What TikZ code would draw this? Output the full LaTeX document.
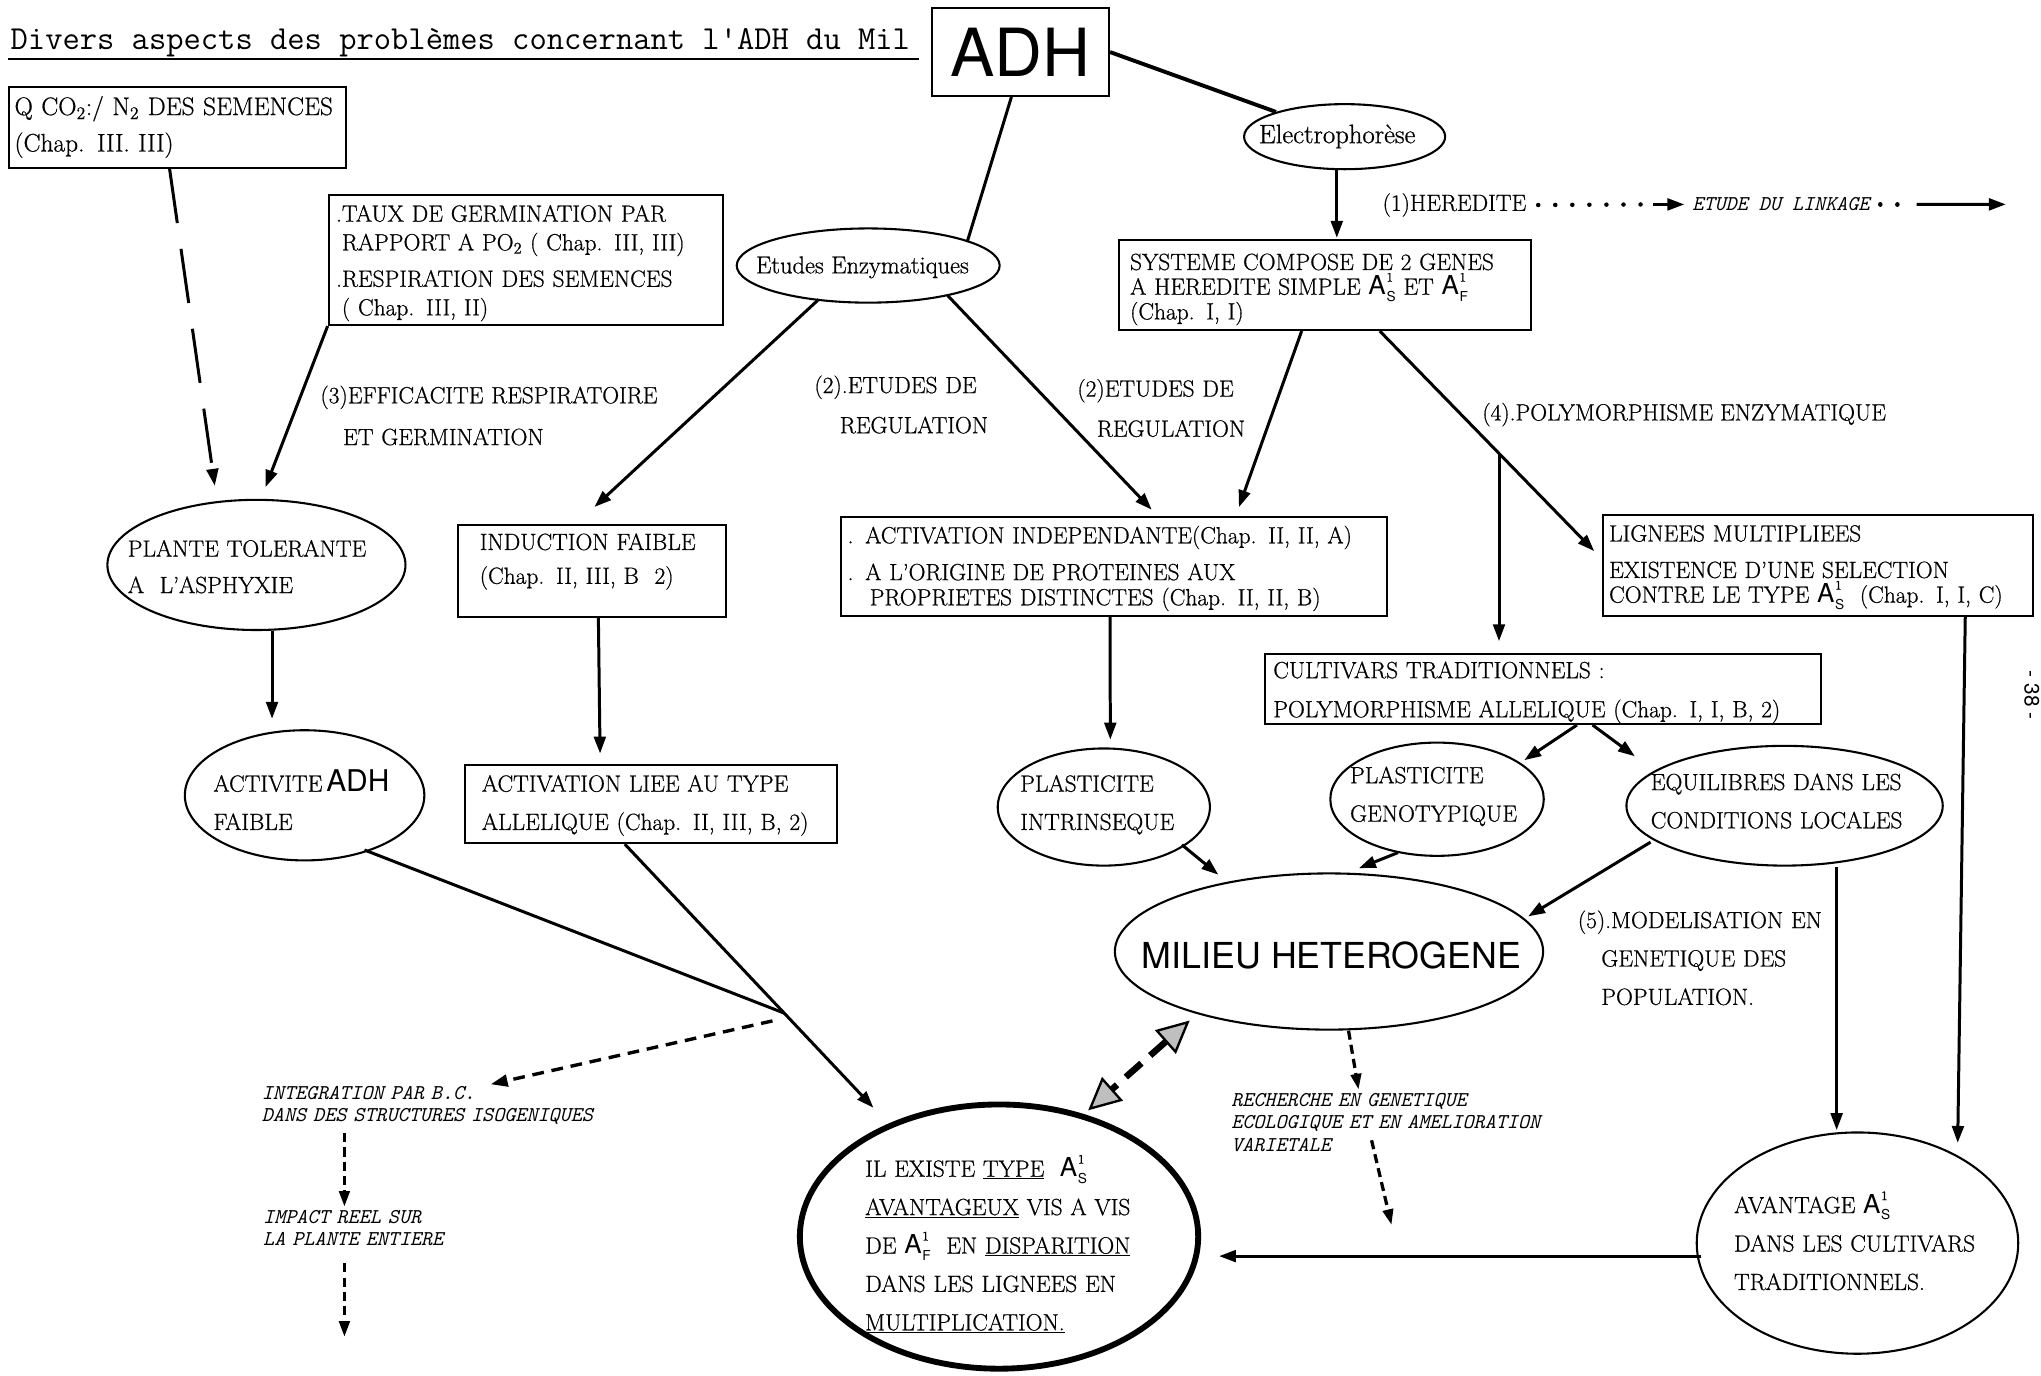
\documentclass[tikz,border=0pt]{standalone}
\usepackage{fontspec}
\setmainfont{Latin Modern Roman}[FakeBold=0.7]
\newfontfamily\heros{TeX Gyre Heros}
\usetikzlibrary{arrows.meta,calc,shapes.geometric}
\newcommand\myA[1]{{\heros\fontsize{20}{20}\selectfont A}\kern0.5pt\rlap{\raisebox{10pt}{\fontsize{10}{10}\selectfont 1}}\raisebox{-5pt}{\heros\fontsize{10.5}{10.5}\selectfont #1}}
\newcommand\bodyf[1]{\fontsize{18}{#1}\selectfont\lineskiplimit=-100pt\relax}
\newcommand\ittf[1]{\fontsize{16.2}{#1}\selectfont\ttfamily\itshape\lineskiplimit=-100pt\relax}
\tikzset{
  bx/.style={draw, line width=1.6pt, rectangle, inner sep=0pt},
  el/.style={draw, line width=1.6pt, ellipse, inner sep=0pt},
  tx/.style={inner sep=0pt, anchor=base west, align=left, text width=#1},
  tx/.default=300pt,
  lab/.style={inner sep=0pt, anchor=base west},
  ln/.style={line width=2.3pt},
  arr/.style={line width=2.3pt, -{Triangle[length=13pt,width=9pt]}},
  dsh/.style={line width=2.6pt, dash pattern=on 9pt off 6pt, -{Triangle[length=13pt,width=9pt]}},
  ddot/.style={line width=2.5pt, dash pattern=on 7pt off 4pt, -{Triangle[length=12pt,width=8pt]}},
  dotsty/.style={line width=3.4pt, line cap=round, dash pattern=on 0.1pt off 13pt},
}
\begin{document}
\begin{tikzpicture}[x=1pt,y=-1pt]
\fill[white] (0,0) rectangle (1568,1057);
\useasboundingbox (0,0) rectangle (1568,1057);

% title
\node[lab, font=\fontsize{25.8}{25.8}\selectfont\ttfamily] (title) at (8,38) {Divers aspects des problèmes concernant l'ADH du Mil};
\draw[line width=1.5pt] ($(title.base west)+(-2,7)$) -- ($(title.base east)+(7,7)$);

% ADH
\node[bx, minimum width=136pt, minimum height=67.5pt, font=\heros\fontsize{51}{51}\selectfont] (adh) at (784,40) {ADH};

% boxes
\node[bx, minimum width=259.4pt, minimum height=62.4pt] (qbox) at (136.3,97.8) {};
\node[tx, font=\fontsize{19.5}{28}\selectfont] (qtxt) at (11,88.4) {Q CO\textsubscript{2}:/ N\textsubscript{2} DES SEMENCES\\(Chap. III. III)};

\node[bx, minimum width=303pt, minimum height=100pt] (taux) at (404,199.7) {};
\node[tx=350pt, font=\bodyf{22}] (tauxt) at (258,170.3) {.TAUX DE GERMINATION PAR\\\phantom{.}RAPPORT A PO\textsubscript{2} ( Chap. III, III)\\[6pt].RESPIRATION DES SEMENCES\\\phantom{.}( Chap. III, II)};

\node[bx, minimum width=316pt, minimum height=69pt] (sys) at (1018,219) {};
\node[tx=360pt, font=\bodyf{19}] (syst) at (868,207.4) {SYSTEME COMPOSE DE 2 GENES\\A HEREDITE SIMPLE \myA{S} ET \myA{F}\\(Chap. I, I)};

\node[bx, minimum width=205.4pt, minimum height=70.4pt] (induc) at (454.7,438.5) {};
\node[tx, font=\bodyf{26}] (induct) at (368.4,422.5) {INDUCTION FAIBLE\\(Chap. II, III, B\ \ 2)};

\node[bx, minimum width=419.6pt, minimum height=75.8pt] (actind) at (855.8,435.3) {};
\node[tx=460pt, font=\bodyf{19.3}] (actindt) at (651,417.4) {. ACTIVATION INDEPENDANTE(Chap. II, II, A)\\[9pt]. A L'ORIGINE DE PROTEINES AUX\\\hspace*{17pt}PROPRIETES DISTINCTES (Chap. II, II, B)};

\node[bx, minimum width=330.5pt, minimum height=77.6pt] (lig) at (1396.8,434.4) {};
\node[tx=325pt, font=\bodyf{19}] (ligt) at (1236,416) {LIGNEES MULTIPLIEES\\[9pt]EXISTENCE D'UNE SELECTION\\CONTRE LE TYPE \myA{S}\ \ (Chap. I, I, C)};

\node[bx, minimum width=427pt, minimum height=53.8pt] (cult) at (1185.5,529.3) {};
\node[tx=480pt, font=\bodyf{30}] (cultt) at (978,521) {CULTIVARS TRADITIONNELS :\\POLYMORPHISME ALLELIQUE (Chap. I, I, B, 2)};

\node[bx, minimum width=286pt, minimum height=60pt] (actlie) at (500,617.7) {};
\node[tx, font=\bodyf{29.4}] (actliet) at (370,608.2) {ACTIVATION LIEE AU TYPE\\ALLELIQUE (Chap. II, III, B, 2)};

% ellipses
\node[el, minimum width=154.5pt, minimum height=50pt] (elec) at (1033,105) {};
\node[lab, font=\fontsize{20.5}{20.5}\selectfont] (elect) at (967,110) {Electrophorèse};

\node[el, minimum width=202pt, minimum height=57pt] (etud) at (667,204) {};
\node[lab, font=\fontsize{18.8}{18.8}\selectfont] (etudt) at (580.6,210) {Etudes Enzymatiques};

\node[el, minimum width=229pt, minimum height=100pt] (plante) at (197,434) {};
\node[tx, font=\bodyf{28}] (plantet) at (98,427.6) {PLANTE TOLERANTE\\A\ \ L'ASPHYXIE};

\node[el, minimum width=184pt, minimum height=100pt] (act) at (234,611) {};
\node[tx, font=\bodyf{29.4}] (actt) at (163.8,608.2) {ACTIVITE\,{\heros\fontsize{23}{23}\selectfont ADH}\\FAIBLE};

\node[el, minimum width=163pt, minimum height=90pt] (plasint) at (848,620) {};
\node[tx, font=\bodyf{29.4}] (plasintt) at (783.6,608.2) {PLASTICITE\\INTRINSEQUE};

\node[el, minimum width=164pt, minimum height=87pt] (plasgen) at (1104,614) {};
\node[tx, font=\bodyf{29.5}] (plasgent) at (1037,601.7) {PLASTICITE\\GENOTYPIQUE};

\node[el, minimum width=243pt, minimum height=92pt] (equil) at (1371,619) {};
\node[tx, font=\bodyf{29.3}] (equilt) at (1268,607) {EQUILIBRES DANS LES\\CONDITIONS LOCALES};

\node[el, minimum width=329pt, minimum height=120pt] (milieu) at (1021,731) {};
\node[lab, font=\heros\fontsize{27.5}{27.5}\selectfont] (milieut) at (877,744) {MILIEU HETEROGENE};

\node[el, line width=4.5pt, minimum width=306pt, minimum height=203pt] (ilex) at (767.5,950) {};
\node[tx, font=\bodyf{29.5}] (ilext) at (664.5,904) {IL EXISTE \underline{TYPE}\ \ \myA{S}\\\underline{AVANTAGEUX} VIS A VIS\\DE \myA{F}\ \ EN \underline{DISPARITION}\\DANS LES LIGNEES EN\\\underline{MULTIPLICATION.}};

\node[el, minimum width=247pt, minimum height=170pt] (avant) at (1427,955) {};
\node[tx, font=\bodyf{29.5}] (avantt) at (1332,932) {AVANTAGE \myA{S}\\DANS LES CULTIVARS\\TRADITIONNELS.};

% labels
\node[lab, font=\bodyf{20}] (hered) at (1062,162) {(1)HEREDITE};
\node[lab, font=\ittf{17}] (link) at (1300,162) {ETUDE DU LINKAGE};
\coordinate (lkend) at (1541,157);

\node[tx, font=\bodyf{32.1}] (eff3) at (246,309.8) {(3)EFFICACITE RESPIRATOIRE\\\hspace*{17.4pt}ET GERMINATION};
\node[tx, font=\bodyf{30.8}] (reg2a) at (625.5,302) {(2).ETUDES DE\\\hspace*{19.5pt}REGULATION};
\node[tx, font=\bodyf{30.8}] (reg2b) at (827.5,304.7) {(2)ETUDES DE\\\hspace*{15pt}REGULATION};
\node[lab, font=\bodyf{20}] (poly4) at (1138.6,323) {(4).POLYMORPHISME ENZYMATIQUE};
\node[tx, font=\bodyf{29.5}] (mod5) at (1212,713) {(5).MODELISATION EN\\\hspace*{18pt}GENETIQUE DES\\\hspace*{18pt}POPULATION.};

\node[tx, font=\ittf{16.7}] (integ) at (201,845) {INTEGRATION PAR B.C.\\DANS DES STRUCTURES ISOGENIQUES};
\node[tx, font=\ittf{16.7}] (impact) at (202,939.8) {IMPACT REEL SUR\\LA PLANTE ENTIERE};
\coordinate (impend) at (264.6,1027);
\node[tx, font=\ittf{17.3}] (rech) at (945.7,850) {RECHERCHE EN GENETIQUE\\ECOLOGIQUE ET EN AMELIORATION\\VARIETALE};
\coordinate (rechend) at (1069,941);

\node[font=\heros\fontsize{16}{16}\selectfont, rotate=-90, inner sep=0pt] (pnum) at (1561,534) {- 38 -};

% connectors
\draw[line width=3pt] (adh.east) -- (elec);
\draw[ln] ($(adh.south)+(-7,0)$) -- ($(etud)+(76,-18)$);
\draw[arr] ($(elec.south)+(-6,0)$) -- ($(sys.north)+(9,-1)$);
\draw[ln, dash pattern=on 42pt off 20pt, -{Triangle[length=13pt,width=9pt]}] ($(qbox.south)+(-6,0)$) -- ($(plante.north)+(-32,-10)$);
\draw[arr] (taux.south west) -- ($(plante.north)+(7,-9)$);
\draw[arr] ($(etud)+(-38,26)$) -- ($(induc.north)+(2,-13)$);
\draw[arr] ($(etud)+(61,23)$) -- ($(actind.north)+(29,-5)$);
\draw[arr] ($(sys.south)+(-18,0)$) -- ($(actind.north)+(96,-7)$);
\draw[arr] ($(sys.south)+(42,0)$) -- coordinate[pos=0.556] (br) ($(lig.west)+(-6,-11)$);
\draw[arr, shorten >=9pt] (br) -- (br |- cult.north);
\draw[arr] ($(plante.south)+(12,0)$) -- ($(act.north)+(-25,-8)$);
\draw[arr] ($(induc.south)+(5,0)$) -- ($(actlie.north)+(-39,-8)$);
\draw[arr] ($(actind.south)+(-3,0)$) -- ($(plasint.north)+(5,-6)$);
\draw[arr] ($(cult.south)+(26,0)$) -- ($(plasgen)+(67,-30)$);
\draw[arr] ($(cult.south)+(38,0)$) -- ($(equil)+(-115,-38)$);
\draw[arr] ($(plasint)+(60,29)$) -- ($(milieu)+(-85,-59)$);
\draw[arr] ($(plasgen)+(-30,41)$) -- ($(milieu)+(23,-64)$);
\draw[arr] ($(equil)+(-103,28)$) -- ($(milieu)+(153,-27)$);
\draw[arr] ($(lig.south)+(113,0)$) -- ($(avant)+(77,-77)$);
\draw[arr] ($(equil.south)+(40,0)$) -- ($(avant.north)+(-16,-1)$);
\draw[arr] ($(avant)+(-120,10)$) -- ($(ilex)+(169,15)$);
\draw[arr] ($(actlie.south)+(-20,0)$) -- coordinate[pos=0.641] (J) ($(ilex)+(-96.5,-99)$);
\draw[ln] ($(act)+(46,42)$) -- (J);
\draw[dsh] ($(J)+(-9,6)$) -- ($(integ.base west)+(176,-12)$);
\draw[ddot] ($(integ.base west)+(63.6,25.5)$) -- ($(impact.base west)+(62.6,-12.8)$);
\draw[ddot] ($(impact.base west)+(62.6,30.7)$) -- (impend);
\draw[line width=5pt, dash pattern=on 16pt off 9pt, {Triangle[length=25pt,width=24pt,fill=gray!50,line width=1.8pt]}-{Triangle[length=25pt,width=24pt,fill=gray!50,line width=1.8pt]}] ($(milieu)+(-107,53)$) -- ($(ilex)+(68.5,-97)$);
\draw[ddot] ($(milieu.south)+(15,0)$) -- ($(rech.base west)+(98,-13)$);
\draw[ddot] ($(rech.base west)+(108,26)$) -- (rechend);

\draw[dotsty] ($(hered.east)+(9,0)$) -- ($(link.west)+(-34,0)$);
\draw[arr] ($(link.west)+(-30,0)$) -- ($(link.west)+(-6,0)$);
\draw[dotsty] ($(link.east)+(8,0)$) -- ($(link.east)+(30,0)$);
\draw[arr] ($(link.east)+(36,0)$) -- (lkend);
\end{tikzpicture}
\end{document}
